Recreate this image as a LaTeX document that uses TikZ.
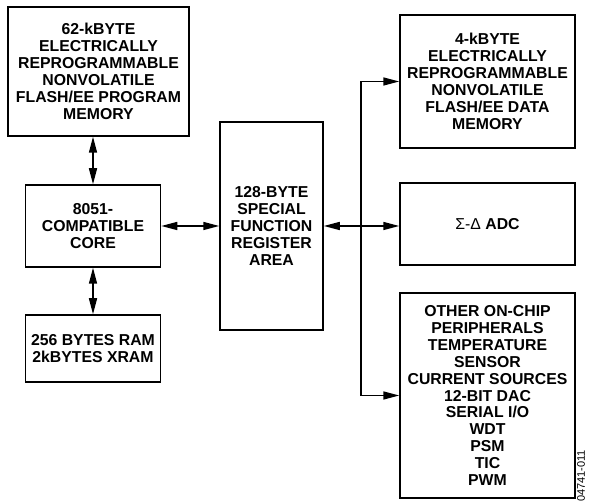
\documentclass[tikz,border=0pt]{standalone}
\usepackage{fontspec}
\setmainfont{Liberation Sans}
\usetikzlibrary{arrows.meta}

\tikzset{
    blk/.style={draw, line width=1.5pt, align=center, inner sep=0pt,
        font=\bfseries\fontsize{15.8}{16.9}\selectfont},
    link/.style={line width=1.5pt, {Triangle[length=16pt,width=8pt]}-{Triangle[length=16pt,width=8pt]}},
    feed/.style={line width=1.5pt, -{Triangle[length=16pt,width=8pt]}}
}

\begin{document}
\begin{tikzpicture}[x=1pt,y=-1pt]
                \useasboundingbox (0,0) rectangle (590,502);
                \node[blk, minimum width=181pt, minimum height=129pt] (prog) at (98.5,71.5)
                    {62-kBYTE\\ELECTRICALLY\\REPROGRAMMABLE\\NONVOLATILE\\FLASH/EE PROGRAM\\MEMORY};
                \node[blk, minimum width=135pt, minimum height=82pt] (core) at (93,226)
                    {8051-\\COMPATIBLE\\CORE};
                \node[blk, minimum width=135pt, minimum height=67pt] (ram) at (93,348.5)
                    {256 BYTES RAM\\2kBYTES XRAM};
                \node[blk, minimum width=103pt, minimum height=208pt] (sfr) at (271.5,226)
                    {128-BYTE\\SPECIAL\\FUNCTION\\REGISTER\\AREA};
                \node[blk, minimum width=175pt, minimum height=133pt] (data) at (487.5,81.5)
                    {4-kBYTE\\ELECTRICALLY\\REPROGRAMMABLE\\NONVOLATILE\\FLASH/EE DATA\\MEMORY};
                \node[blk, minimum width=175pt, minimum height=82pt] (adc) at (487.5,224)
                    {{\mdseries Σ-Δ} ADC};
                \node[blk, minimum width=175pt, minimum height=205pt] (other) at (487.5,395.5)
                    {OTHER ON-CHIP\\PERIPHERALS\\TEMPERATURE\\SENSOR\\CURRENT SOURCES\\12-BIT DAC\\SERIAL I/O\\WDT\\PSM\\TIC\\PWM};
                \node[rotate=90, font=\fontsize{11}{11}\selectfont] (fig) at (581,476) {04741-011};
                \coordinate (bus) at (361,226);
                \draw[link] (prog.south -| core.north) -- (core.north);
                \draw[link] (core.south) -- (ram.north);
                \draw[link] (core.east) -- (sfr.west);
                \draw[link] (sfr.east) -- (sfr.east -| adc.west);
                \draw[feed] (bus) -- (bus |- data.west) -- (data.west);
                \draw[feed] (bus) -- (bus |- other.west) -- (other.west);
            \end{tikzpicture}
\end{document}
